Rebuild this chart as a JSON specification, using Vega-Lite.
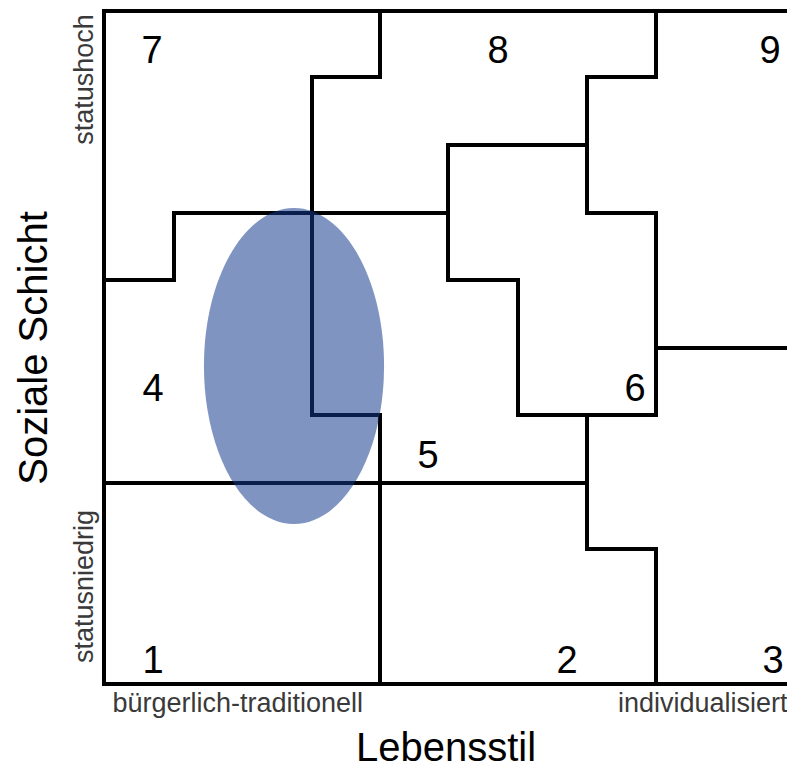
{
  "$schema": "https://vega.github.io/schema/vega-lite/v6.json",
  "width": 683,
  "height": 673,
  "autosize": {"type": "none"},
  "padding": {"left": 104, "top": 11, "right": 0, "bottom": 88},
  "background": "white",
  "config": {
    "view": {"stroke": null},
    "font": "Liberation Sans"
  },
  "datasets": {
    "lines": [
      {"path": "p0", "i": 0, "x": 683, "y": 673},
      {"path": "p0", "i": 1, "x": 0, "y": 673},
      {"path": "p0", "i": 2, "x": 0, "y": 0},
      {"path": "p0", "i": 3, "x": 683, "y": 0},
      {"path": "p1", "i": 0, "x": 276, "y": 673},
      {"path": "p1", "i": 1, "x": 276, "y": 607},
      {"path": "p1", "i": 2, "x": 208, "y": 607},
      {"path": "p1", "i": 3, "x": 208, "y": 269},
      {"path": "p1", "i": 4, "x": 276, "y": 269},
      {"path": "p1", "i": 5, "x": 276, "y": 0},
      {"path": "p2", "i": 0, "x": 0, "y": 404},
      {"path": "p2", "i": 1, "x": 70, "y": 404},
      {"path": "p2", "i": 2, "x": 70, "y": 471},
      {"path": "p2", "i": 3, "x": 344, "y": 471},
      {"path": "p3", "i": 0, "x": 483, "y": 539},
      {"path": "p3", "i": 1, "x": 344, "y": 539},
      {"path": "p3", "i": 2, "x": 344, "y": 404},
      {"path": "p3", "i": 3, "x": 414, "y": 404},
      {"path": "p3", "i": 4, "x": 414, "y": 269},
      {"path": "p3", "i": 5, "x": 552, "y": 269},
      {"path": "p4", "i": 0, "x": 552, "y": 673},
      {"path": "p4", "i": 1, "x": 552, "y": 607},
      {"path": "p4", "i": 2, "x": 483, "y": 607},
      {"path": "p4", "i": 3, "x": 483, "y": 471},
      {"path": "p4", "i": 4, "x": 552, "y": 471},
      {"path": "p4", "i": 5, "x": 552, "y": 269},
      {"path": "p5", "i": 0, "x": 552, "y": 336},
      {"path": "p5", "i": 1, "x": 683, "y": 336},
      {"path": "p6", "i": 0, "x": 0, "y": 201},
      {"path": "p6", "i": 1, "x": 483, "y": 201},
      {"path": "p7", "i": 0, "x": 483, "y": 269},
      {"path": "p7", "i": 1, "x": 483, "y": 135},
      {"path": "p7", "i": 2, "x": 552, "y": 135},
      {"path": "p7", "i": 3, "x": 552, "y": 0}
    ],
    "cells": [
      {"label": "7", "x": 48, "y": 621},
      {"label": "8", "x": 394, "y": 621},
      {"label": "9", "x": 666, "y": 621},
      {"label": "4", "x": 49, "y": 283},
      {"label": "5", "x": 324, "y": 216},
      {"label": "6", "x": 531, "y": 283},
      {"label": "1", "x": 49, "y": 11},
      {"label": "2", "x": 463, "y": 11},
      {"label": "3", "x": 669, "y": 11}
    ],
    "zone": [
      {"x": 190, "y": 318}
    ]
  },
  "encoding": {
    "x": {
      "field": "x",
      "type": "quantitative",
      "scale": {"domain": [0, 683], "nice": false, "zero": false},
      "axis": {
        "title": "Lebensstil",
        "titleFontSize": 40,
        "titleFontWeight": "normal",
        "titleColor": "black",
        "titlePadding": 12,
        "values": [8, 683],
        "labelExpr": "datum.value < 100 ? 'bürgerlich-traditionell' : 'individualisiert'",
        "labelAlign": {"condition": {"test": "datum.value < 100", "value": "left"}, "value": "right"},
        "labelFlush": false,
        "labelOverlap": false,
        "labelLimit": 0,
        "labelFontSize": 27,
        "labelColor": "#3a3a3a",
        "labelPadding": 6,
        "ticks": false,
        "domain": false,
        "grid": false
      }
    },
    "y": {
      "field": "y",
      "type": "quantitative",
      "scale": {"domain": [0, 673], "nice": false, "zero": false},
      "axis": {
        "title": "Soziale Schicht",
        "titleFontSize": 40,
        "titleFontWeight": "normal",
        "titleColor": "black",
        "titlePadding": 16,
        "values": [98, 605],
        "labelExpr": "datum.value > 300 ? 'statushoch' : 'statusniedrig'",
        "labelAngle": 270,
        "labelAlign": "center",
        "labelBaseline": "alphabetic",
        "labelOverlap": false,
        "labelLimit": 0,
        "labelFontSize": 27,
        "labelColor": "#3a3a3a",
        "labelPadding": 12,
        "ticks": false,
        "domain": false,
        "grid": false
      }
    }
  },
  "layer": [
    {
      "data": {"name": "lines"},
      "mark": {"type": "line", "color": "black", "strokeWidth": 4, "strokeCap": "square", "strokeJoin": "miter", "clip": false},
      "encoding": {
        "detail": {"field": "path", "type": "nominal"},
        "order": {"field": "i", "type": "quantitative"}
      }
    },
    {
      "data": {"name": "zone"},
      "mark": {
        "type": "point",
        "filled": true,
        "shape": "M0,-1C0.3148,-1,0.57,-0.5523,0.57,0C0.57,0.5523,0.3148,1,0,1C-0.3148,1,-0.57,0.5523,-0.57,0C-0.57,-0.5523,-0.3148,-1,0,-1Z",
        "size": 99856,
        "color": "#133a8a",
        "opacity": 0.54,
        "strokeWidth": 0
      }
    },
    {
      "data": {"name": "cells"},
      "mark": {"type": "text", "fontSize": 38, "font": "Liberation Sans", "align": "center", "baseline": "alphabetic", "color": "black"},
      "encoding": {
        "text": {"field": "label", "type": "nominal"}
      }
    }
  ]
}
